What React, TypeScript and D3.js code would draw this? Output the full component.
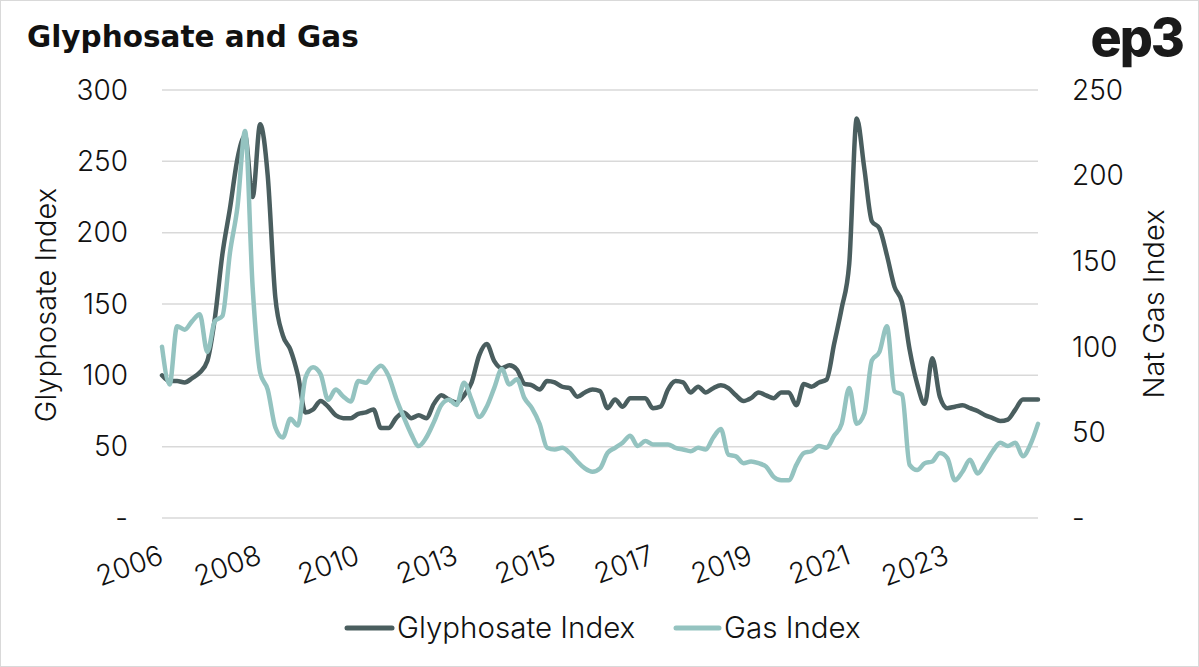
import React from "react";
import * as d3 from "d3";

const glyphosate: number[] = [
  100, 96, 96, 95, 98, 102, 110, 140, 185, 217,
  252, 268, 225, 276, 240, 155, 128, 118, 100, 74,
  76, 82, 78, 72, 70, 70, 73, 74, 76, 63,
  63, 70, 74, 70, 72, 70, 80, 86, 83, 81,
  86, 95, 114, 122, 110, 105, 107, 104, 94, 93,
  90, 96, 95, 92, 91, 85, 88, 90, 89, 77,
  83, 78, 84, 84, 84, 77, 78, 90, 96, 95,
  88, 92, 88, 91, 93, 91, 86, 82, 84, 88,
  86, 84, 88, 88, 79, 94, 92, 95, 97, 122,
  147, 178, 280, 245, 208, 203, 184, 162, 151, 118,
  94, 80, 112, 85, 77, 78, 79, 77, 75, 72,
  70, 68, 69, 76, 83, 83, 83,
];

const gas: number[] = [
  100, 78, 112, 110, 115, 119, 97, 115, 118, 155,
  182, 226, 135, 85, 75, 53, 47, 58, 54, 82,
  88, 84, 69, 75, 71, 68, 80, 79, 85, 89,
  83, 70, 59, 49, 42, 47, 56, 66, 69, 66,
  79, 69, 59, 65, 76, 87, 78, 81, 70, 64,
  55, 41, 40, 41, 38, 33, 29, 27, 29, 38,
  41, 44, 48, 42, 45, 43, 43, 43, 41, 40,
  39, 41, 40, 47, 52, 37, 36, 32, 33, 32,
  30, 24, 22, 22, 31, 38, 39, 42, 41, 48,
  55, 76, 55, 61, 92, 97, 112, 74, 72, 31,
  28, 32, 33, 38, 35, 22, 27, 34, 26, 32,
  39, 44, 42, 44, 36, 43, 55,
];

const xLabels: string[] = ["2006", "2008", "2010", "2013", "2015", "2017", "2019", "2021", "2023"];
const labelStep = 13;
const leftTicks: number[] = [0, 50, 100, 150, 200, 250, 300];
const rightTicks: number[] = [0, 50, 100, 150, 200, 250];

const DARK = "#4a5e5f";
const LIGHT = "#94c3c0";
const FONT = "Inter, 'Open Sans', sans-serif";
const FS = 28;

export default function App() {
  const W = 1199;
  const H = 667;
  const x = d3.scaleLinear().domain([0, glyphosate.length - 1]).range([162, 1038]);
  const yL = d3.scaleLinear().domain([0, 300]).range([518, 90]);
  const yR = d3.scaleLinear().domain([0, 250]).range([518, 90]);

  const lineL = d3
    .line<number>()
    .x((_, i) => x(i))
    .y((d) => yL(d))
    .curve(d3.curveMonotoneX);
  const lineR = d3
    .line<number>()
    .x((_, i) => x(i))
    .y((d) => yR(d))
    .curve(d3.curveMonotoneX);

  const fmt = (v: number) => (v === 0 ? "-" : String(v));

  return (
    <svg
      width={W}
      height={H}
      style={{ position: "absolute", left: 0, top: 0, background: "#fff" }}
      fontFamily={FONT}
    >
      <rect x={0.5} y={0.5} width={W - 1} height={H - 1} fill="#fff" stroke="#d9d9d9" strokeWidth={1} />
      <text x={27} y={47} fontSize={29.5} fontWeight={700} fill="#111" fontFamily="'DejaVu Sans', sans-serif">
        Glyphosate and Gas
      </text>
      <text x={1183} y={56} fontSize={52} fontWeight={800} fill="#1a1a1a" textAnchor="end" letterSpacing={-2}>
        ep3
      </text>

      {leftTicks.map((t) => (
        <g key={"gl" + t}>
          <line x1={162} x2={1038} y1={yL(t)} y2={yL(t)} stroke="#d9d9d9" strokeWidth={1.5} />
          <text x={128} y={yL(t)} dy="0.35em" textAnchor="end" fontSize={FS} fontWeight={300} fill="#111">
            {fmt(t)}
          </text>
        </g>
      ))}
      {rightTicks.map((t) => (
        <text key={"r" + t} x={1072} y={yR(t)} dy="0.35em" textAnchor="start" fontSize={FS} fontWeight={300} fill="#111">
          {fmt(t)}
        </text>
      ))}

      <text transform={`translate(56,305) rotate(-90)`} textAnchor="middle" fontSize={29} fontWeight={300} fill="#111">
        Glyphosate Index
      </text>
      <text transform={`translate(1164,304) rotate(-90)`} textAnchor="middle" fontSize={29} fontWeight={300} fill="#111">
        Nat Gas Index
      </text>

      {xLabels.map((lab, k) => (
        <text
          key={lab}
          transform={`translate(${x(k * labelStep) + 3},563) rotate(-20)`}
          textAnchor="end"
          fontSize={FS}
          fontWeight={300}
          fill="#111"
        >
          {lab}
        </text>
      ))}

      <path d={lineL(glyphosate) || ""} fill="none" stroke={DARK} strokeWidth={4.5} strokeLinejoin="round" strokeLinecap="round" />
      <path d={lineR(gas) || ""} fill="none" stroke={LIGHT} strokeWidth={4.5} strokeLinejoin="round" strokeLinecap="round" />

      <g>
        <line x1={347} x2={392} y1={628} y2={628} stroke={DARK} strokeWidth={5} strokeLinecap="round" />
        <text x={397} y={628} dy="0.35em" fontSize={29.5} fontWeight={300} fill="#111">
          Glyphosate Index
        </text>
        <line x1={676} x2={719} y1={628} y2={628} stroke={LIGHT} strokeWidth={5} strokeLinecap="round" />
        <text x={724} y={628} dy="0.35em" fontSize={29.5} fontWeight={300} fill="#111">
          Gas Index
        </text>
      </g>
    </svg>
  );
}
